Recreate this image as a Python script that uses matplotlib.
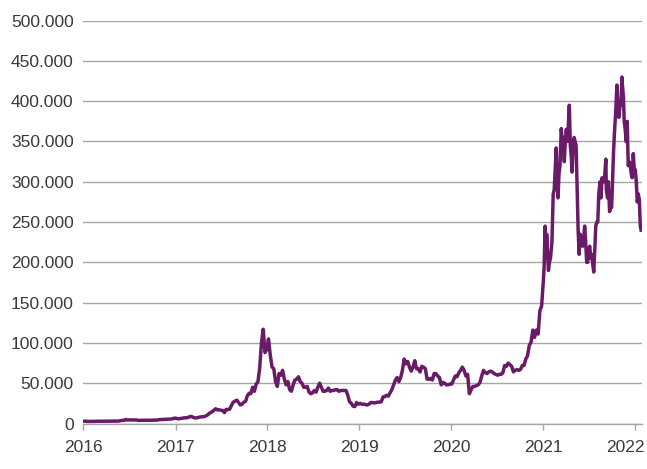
import matplotlib
matplotlib.use("Agg")
import matplotlib.pyplot as plt
import matplotlib.dates as mdates
import matplotlib.transforms as mtransforms
from matplotlib.ticker import FuncFormatter, MultipleLocator
import pandas as pd

# Kurs i tusinde kroner, ugevis 2016-2020 (fredage)
kurs_2016 = [2.9, 3.0, 2.6, 2.6, 2.5, 2.5, 2.6, 2.8, 2.9, 2.8, 2.8, 2.8, 2.8,
             2.8, 2.8, 2.9, 3.0, 3.0, 3.0, 3.0, 3.0, 3.5, 3.8, 3.9, 5.0, 4.3,
             4.5, 4.4, 4.4, 4.4, 4.4, 3.9, 3.9, 3.9, 3.9, 4.0, 4.1, 4.1, 4.0,
             4.1, 4.1, 4.2, 4.3, 4.8, 4.9, 4.9, 5.0, 5.2, 5.4, 5.5, 5.6, 6.3, 6.7]
kurs_2017 = [6.3, 5.7, 6.3, 6.4, 7.1, 7.0, 7.3, 8.2, 8.9, 8.0, 7.0, 6.9, 7.5,
             8.0, 8.3, 8.4, 8.9, 10.0, 11.8, 13.5, 14.5, 16.5, 18.3, 16.9, 17.0,
             16.5, 16.2, 13.5, 17.6, 17.2, 17.9, 22.5, 26.5, 27.7, 29.0, 26.3,
             23.0, 23.9, 26.5, 27.5, 34.5, 37.5, 37.0, 45.0, 40.0, 49.0, 51.7,
             68.5, 100.0, 117.0, 88.0, 92.0]
kurs_2018 = [105, 85, 70, 68, 52, 46, 62, 60, 66, 55, 48, 52, 42, 40, 48, 54,
             55, 58, 52, 50, 45, 45, 46, 39, 37, 38, 41, 39, 45, 50, 45, 40, 40,
             41, 44, 40, 41, 41, 42, 42, 40, 41, 41, 41, 41, 35, 27, 25, 21.5,
             21, 26, 24]
kurs_2019 = [25, 24, 24, 23.5, 23, 24, 26, 26, 25.5, 26, 26.5, 26.5, 27, 33,
             33.5, 35, 34, 38, 42, 48, 54, 57, 52, 57, 66, 80, 74, 77, 70, 65,
             70, 78, 68, 68, 64, 71, 70, 68, 55, 55, 56, 54, 62, 62, 59, 57, 48,
             51, 50, 48, 48, 49]
kurs_2020 = [49, 54, 59, 58, 63, 66, 70, 66, 59, 61, 37, 42, 46, 46, 47, 48,
             51, 59, 66, 63, 62, 64, 65, 64, 62, 61, 60, 61, 61, 63, 72, 71, 75,
             73, 71, 64, 66, 67, 66, 67, 72, 72, 80, 84, 97, 101, 116, 107, 116,
             111, 140, 146]

# 2021-2022 med tættere aflæsning
datoer_2021 = ["2021-01-01", "2021-01-04", "2021-01-08", "2021-01-11", "2021-01-14",
               "2021-01-21", "2021-01-25", "2021-01-29", "2021-02-04", "2021-02-09",
               "2021-02-13", "2021-02-17", "2021-02-21", "2021-02-24", "2021-02-28",
               "2021-03-04", "2021-03-08", "2021-03-13", "2021-03-17", "2021-03-21",
               "2021-03-25", "2021-03-29", "2021-04-02", "2021-04-07", "2021-04-10",
               "2021-04-14", "2021-04-18", "2021-04-22", "2021-04-25", "2021-04-29",
               "2021-05-03", "2021-05-07", "2021-05-11", "2021-05-15", "2021-05-19",
               "2021-05-23", "2021-05-27", "2021-06-01", "2021-06-06", "2021-06-10",
               "2021-06-14", "2021-06-18", "2021-06-22", "2021-06-26", "2021-06-30",
               "2021-07-04", "2021-07-08", "2021-07-12", "2021-07-16", "2021-07-20",
               "2021-07-24", "2021-07-28", "2021-08-01", "2021-08-05", "2021-08-09",
               "2021-08-14", "2021-08-18", "2021-08-22", "2021-08-27", "2021-09-01",
               "2021-09-06", "2021-09-08", "2021-09-13", "2021-09-16", "2021-09-21",
               "2021-09-25", "2021-09-29", "2021-10-03", "2021-10-07", "2021-10-11",
               "2021-10-15", "2021-10-20", "2021-10-24", "2021-10-28", "2021-11-01",
               "2021-11-05", "2021-11-09", "2021-11-11", "2021-11-15", "2021-11-18",
               "2021-11-22", "2021-11-26", "2021-11-30", "2021-12-04", "2021-12-08",
               "2021-12-12", "2021-12-16", "2021-12-20", "2021-12-24", "2021-12-28",
               "2022-01-01", "2022-01-05", "2022-01-09", "2022-01-13", "2022-01-17",
               "2022-01-21", "2022-01-24"]
kurs_2021 = [178, 195, 245, 205, 235, 190, 200, 205, 225, 285, 290, 315, 342, 300,
             280, 310, 320, 366, 350, 355, 325, 350, 365, 350, 370, 395, 345, 330,
             312, 345, 355, 350, 345, 290, 240, 210, 235, 225, 220, 230, 245, 225,
             200, 200, 215, 220, 205, 210, 198, 188, 215, 245, 250, 250, 285, 300,
             280, 305, 300, 305, 328, 290, 280, 300, 263, 270, 268, 305, 340, 365,
             385, 420, 395, 380, 395, 395, 430, 420, 405, 375, 365, 350, 375, 320,
             325, 320, 310, 305, 335, 315, 315, 300, 275, 285, 278, 245, 240]

start_datoer = {"2016-01-01": kurs_2016, "2017-01-06": kurs_2017,
                "2018-01-05": kurs_2018, "2019-01-04": kurs_2019,
                "2020-01-03": kurs_2020}

dele = []
for start, vaerdier in start_datoer.items():
    idx = pd.date_range(start, periods=len(vaerdier), freq="7D")
    dele.append(pd.Series(vaerdier, index=idx))
dele.append(pd.Series(kurs_2021, index=pd.to_datetime(datoer_2021)))
kurs = pd.concat(dele) * 1000

plt.rcParams["font.family"] = ["Liberation Sans", "DejaVu Sans"]

fig = plt.figure(figsize=(6.47, 4.69), dpi=100)
ax = fig.add_axes([0.129, 0.097, 0.863, 0.859])

ax.plot(kurs.index, kurs.values, color="#6a1b68", lw=2.5, solid_joinstyle="round")

ax.set_ylim(0, 500000)
ax.set_xlim(pd.Timestamp("2016-01-01"), pd.Timestamp("2022-01-27"))
ax.yaxis.set_major_locator(MultipleLocator(50000))
ax.yaxis.set_major_formatter(FuncFormatter(lambda v, p: f"{int(v):,}".replace(",", ".")))
ax.xaxis.set_major_locator(mdates.YearLocator())
ax.xaxis.set_major_formatter(mdates.DateFormatter("%Y"))

ax.grid(axis="y", color="#a6a6a6", lw=1.0)
ax.set_axisbelow(True)
for side in ["top", "right", "left"]:
    ax.spines[side].set_visible(False)
ax.spines["bottom"].set_color("#a6a6a6")
ax.spines["bottom"].set_linewidth(1.0)

ax.tick_params(axis="y", length=0, pad=7, labelsize=12.5, labelcolor="#3a3a3a")
ax.tick_params(axis="x", length=4, width=1.0, color="#a6a6a6", pad=8,
               labelsize=12.5, labelcolor="#3a3a3a")

# sidste årstal skubbes lidt ind, så det ikke klippes
fig.canvas.draw()
sidste = ax.get_xticklabels()[-1]
sidste.set_transform(sidste.get_transform() +
                     mtransforms.ScaledTranslation(-10 / 100, 0, fig.dpi_scale_trans))

fig.savefig("out.png", dpi=100)
